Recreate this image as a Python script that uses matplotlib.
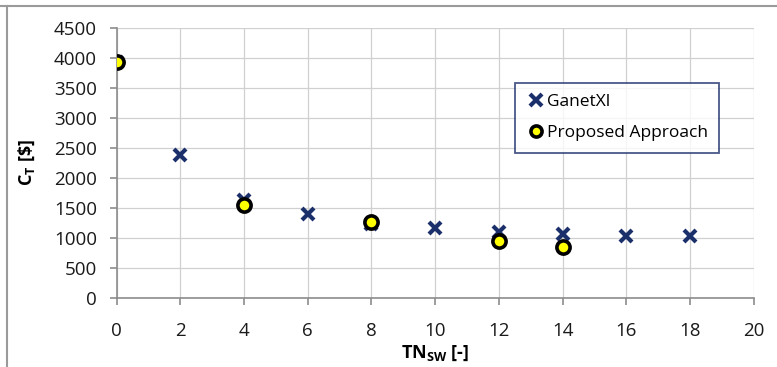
import matplotlib
matplotlib.use("Agg")
import matplotlib.pyplot as plt
from matplotlib.lines import Line2D

plt.rcParams['font.family'] = ['Open Sans', 'DejaVu Sans']
plt.rcParams['mathtext.fontset'] = 'custom'
plt.rcParams['mathtext.rm'] = 'Open Sans'
plt.rcParams['mathtext.bf'] = 'Open Sans:bold'

# Data
ganet_x = [0, 2, 4, 6, 8, 10, 12, 14, 16, 18]
ganet_y = [3930, 2380, 1630, 1400, 1240, 1165, 1095, 1060, 1035, 1030]
prop_x = [0, 4, 8, 12, 14]
prop_y = [3928, 1555, 1272, 950, 850]
x_ticks = list(range(0, 21, 2))
y_ticks = list(range(0, 4501, 500))

navy = '#1b2f6b'

fig = plt.figure(figsize=(7.77, 3.67), dpi=100)
ax = fig.add_axes([0.150, 0.188, 0.820, 0.736])

ax.plot(ganet_x, ganet_y, linestyle='none', marker='x', markersize=8.5,
        markeredgewidth=3, color=navy, label='GanetXl', zorder=3)
ax.plot(prop_x, prop_y, linestyle='none', marker='o', markersize=9.5,
        markerfacecolor='#ffff00', markeredgecolor='black', markeredgewidth=2.6,
        label='Proposed Approach', zorder=4)

ax.set_xlim(0, 20)
ax.set_ylim(0, 4500)
ax.set_xticks(x_ticks)
ax.set_yticks(y_ticks)
ax.grid(True, color='#d0d0d0', linewidth=0.9)
ax.set_axisbelow(True)
for s in ['top', 'right']:
    ax.spines[s].set_visible(False)
for s in ['left', 'bottom']:
    ax.spines[s].set_color('#8c8c8c')
    ax.spines[s].set_linewidth(1.2)
ax.tick_params(axis='both', direction='out', length=5, width=1.2, color='#8c8c8c',
               labelsize=13.5, labelcolor='#1a1a1a')
ax.tick_params(axis='x', pad=12)
ax.tick_params(axis='y', pad=9)

ax.set_xlabel(r'TN$_{\mathbf{SW}}$ [-]', fontsize=13, fontweight='bold', labelpad=3)
ax.set_ylabel(r'C$_{\mathbf{T}}$ [\$]', fontsize=13, fontweight='bold', labelpad=12)

leg = ax.legend(loc='upper left', bbox_to_anchor=(0.625, 0.796), borderaxespad=0,
                fontsize=12.5, frameon=True, fancybox=False, handletextpad=0.1,
                handlelength=1.1, labelspacing=0.85, borderpad=0.65)
leg.get_frame().set_edgecolor(navy)
leg.get_frame().set_linewidth(1.3)
for h in leg.legend_handles:
    h.set_markersize(8)

# document frame lines
fig.add_artist(Line2D([0, 1], [1 - 5.5 / 367, 1 - 5.5 / 367], transform=fig.transFigure,
                      color='#9a9a9a', linewidth=1.5))
fig.add_artist(Line2D([7 / 777, 7 / 777], [0, 1 - 5.5 / 367], transform=fig.transFigure,
                      color='#9a9a9a', linewidth=1.5))

fig.savefig('out.png', dpi=100)
